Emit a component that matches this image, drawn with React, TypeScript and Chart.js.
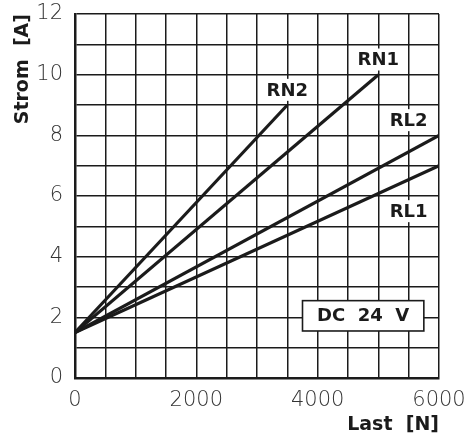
import React, { useEffect, useRef } from "react";
import { Chart, registerables } from "chart.js";

Chart.register(...registerables);

const seriesNames = ["RN2", "RN1", "RL2", "RL1"];
const seriesStartX = [0, 0, 0, 0];
const seriesStartY = [1.5, 1.5, 1.5, 1.5];
const seriesEndX = [3500, 5000, 6000, 6000];
const seriesEndY = [9, 10, 8, 7];

const labelX = [3500, 5000, 5500, 5500];
const labelY = [9.5, 10.5, 8.5, 5.5];

const noteText = "DC  24  V";
const noteBoxX = [3750, 5750];
const noteBoxY = [1.55, 2.55];

const xTickLabels = [0, 2000, 4000, 6000];
const yTickLabels = [0, 2, 4, 6, 8, 10, 12];

const INK = "#1b1b1b";
const BOLD = "bold 18px 'DejaVu Sans', sans-serif";

const labelPlugin = {
  id: "seriesLabels",
  afterDatasetsDraw(chart: any) {
    const { ctx, scales } = chart;
    const xs = scales.x;
    const ys = scales.y;
    ctx.save();
    ctx.font = BOLD;
    ctx.textAlign = "center";
    ctx.textBaseline = "middle";
    seriesNames.forEach((name, i) => {
      const px = xs.getPixelForValue(labelX[i]);
      const py = ys.getPixelForValue(labelY[i]);
      const w = ctx.measureText(name).width;
      ctx.fillStyle = "#ffffff";
      ctx.fillRect(px - w / 2 - 4, py - 11, w + 8, 22);
      ctx.fillStyle = INK;
      ctx.fillText(name, px, py + 1);
    });
    const x0 = xs.getPixelForValue(noteBoxX[0]);
    const x1 = xs.getPixelForValue(noteBoxX[1]);
    const y0 = ys.getPixelForValue(noteBoxY[1]);
    const y1 = ys.getPixelForValue(noteBoxY[0]);
    ctx.fillStyle = "#ffffff";
    ctx.fillRect(x0, y0, x1 - x0, y1 - y0);
    ctx.strokeStyle = INK;
    ctx.lineWidth = 1.6;
    ctx.strokeRect(x0, y0, x1 - x0, y1 - y0);
    ctx.fillStyle = INK;
    ctx.fillText(noteText, (x0 + x1) / 2, (y0 + y1) / 2 + 1);
    ctx.restore();
  },
};

export default function App() {
  const ref = useRef<HTMLCanvasElement | null>(null);
  useEffect(() => {
    if (!ref.current) return;
    const datasets = seriesNames.map((name, i) => ({
      label: name,
      data: [
        { x: seriesStartX[i], y: seriesStartY[i] },
        { x: seriesEndX[i], y: seriesEndY[i] },
      ],
      borderColor: INK,
      borderWidth: 3.2,
      pointRadius: 0,
      fill: false,
      tension: 0,
    }));
    const chart = new Chart(ref.current, {
      type: "line",
      data: { datasets },
      plugins: [labelPlugin],
      options: {
        animation: false,
        responsive: false,
        maintainAspectRatio: false,
        layout: { padding: { left: 0, top: 14, right: 30, bottom: 0 } },
        plugins: { legend: { display: false }, tooltip: { enabled: false } },
        scales: {
          x: {
            type: "linear",
            min: 0,
            max: 6000,
            afterFit: (s: any) => {
              s.height = 58;
              s.paddingLeft = 0;
              s.paddingRight = 0;
            },
            ticks: {
              stepSize: 500,
              autoSkip: false,
              maxRotation: 0,
              padding: 10,
              color: "#333",
              font: { family: "'DejaVu Sans', sans-serif", size: 21, weight: "200" as any },
              callback: (v: any) => (xTickLabels.includes(Number(v)) ? String(v) : ""),
            },
            grid: { color: INK, lineWidth: 1.5, drawTicks: false },
            border: { color: INK, width: 2.5 },
            title: {
              display: true,
              text: "Last  [N]",
              align: "end",
              color: INK,
              font: { family: "'DejaVu Sans', sans-serif", size: 19, weight: "bold" },
              padding: { top: 0, bottom: 0 },
            },
          },
          y: {
            type: "linear",
            min: 0,
            max: 12,
            afterFit: (s: any) => {
              s.width = 75;
              s.paddingTop = 0;
              s.paddingBottom = 0;
            },
            ticks: {
              stepSize: 1,
              autoSkip: false,
              padding: 12,
              color: "#333",
              font: { family: "'DejaVu Sans', sans-serif", size: 21, weight: "200" as any },
              callback: (v: any) => (yTickLabels.includes(Number(v)) ? String(v) : ""),
            },
            grid: { color: INK, lineWidth: 1.5, drawTicks: false },
            border: { color: INK, width: 2.5 },
            title: {
              display: true,
              text: "Strom  [A]",
              align: "end",
              color: INK,
              font: { family: "'DejaVu Sans', sans-serif", size: 19, weight: "bold" },
              padding: { top: 12, bottom: 0 },
            },
          },
        },
      },
    });
    return () => chart.destroy();
  }, []);
  return (
    <div style={{ position: "absolute", left: 0, top: 0, width: 469, height: 436, background: "#fff" }}>
      <canvas ref={ref} width={469} height={436} style={{ width: 469, height: 436 }} />
    </div>
  );
}
